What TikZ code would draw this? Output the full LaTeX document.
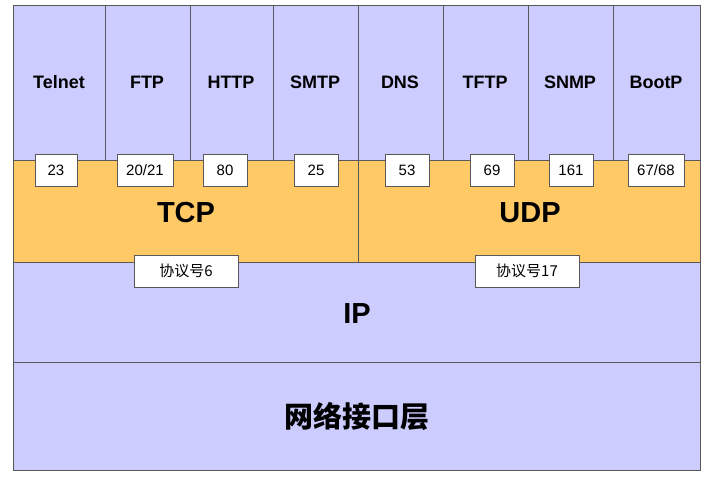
\documentclass[tikz,border=0pt]{standalone}
\usepackage{fontspec}
\setmainfont{Liberation Sans}
\newfontfamily\cjk{Noto Sans CJK SC}
\begin{document}
\begin{tikzpicture}[x=1pt,y=-1pt,
  lay/.style={draw=black!65,line width=0.8pt},
  app/.style={font=\bfseries\fontsize{18}{21}\selectfont},
  port/.style={draw=black!65,fill=white,minimum height=32pt,inner sep=1pt,font=\fontsize{15}{17}\selectfont},
  proto/.style={draw=black!65,fill=white,minimum width=104pt,minimum height=32pt,font=\cjk\fontsize{15}{17}\selectfont},
  big/.style={font=\bfseries\fontsize{29}{33}\selectfont}]
\definecolor{lav}{HTML}{CCCCFF}
\definecolor{org}{HTML}{FFCA66}
\useasboundingbox (0,0) rectangle (715,480);
\fill[white] (0,0) rectangle (715,480);
\filldraw[lay,fill=lav] (13,5) rectangle (700,160);
\filldraw[lay,fill=org] (13,160) rectangle (358,262);
\filldraw[lay,fill=org] (358,160) rectangle (700,262);
\filldraw[lay,fill=lav] (13,262) rectangle (700,362);
\filldraw[lay,fill=lav] (13,362) rectangle (700,470);
\foreach \x in {105,190,273,358,443,528,613} \draw[lay] (\x,5) -- (\x,160);
\foreach \c/\t [count=\i] in {59/Telnet,147/FTP,231/HTTP,315/SMTP,400/DNS,485/TFTP,570/SNMP,656/BootP}
  \node[app] (a\i) at (\c,82) {\t};
\node[port,minimum width=42pt] (p1) at (56,170) {23};
\node[port,minimum width=56pt] (p2) at (145,170) {20/21};
\node[port,minimum width=44pt] (p3) at (225,170) {80};
\node[port,minimum width=44pt] (p4) at (316,170) {25};
\node[port,minimum width=44pt] (p5) at (407,170) {53};
\node[port,minimum width=44pt] (p6) at (492,170) {69};
\node[port,minimum width=44pt] (p7) at (571,170) {161};
\node[port,minimum width=56pt] (p8) at (656,170) {67/68};
\node[big] (tcp) at (186,213) {TCP};
\node[big] (udp) at (530,213) {UDP};
\node[proto] (pr6) at (186,271) {协议号6};
\node[proto] (pr17) at (527,271) {协议号17};
\node[big] (ip) at (357,314) {IP};
\node[font=\cjk\bfseries\fontsize{29}{33}\selectfont] (ni) at (357,416) {网络接口层};
\end{tikzpicture}
\end{document}
